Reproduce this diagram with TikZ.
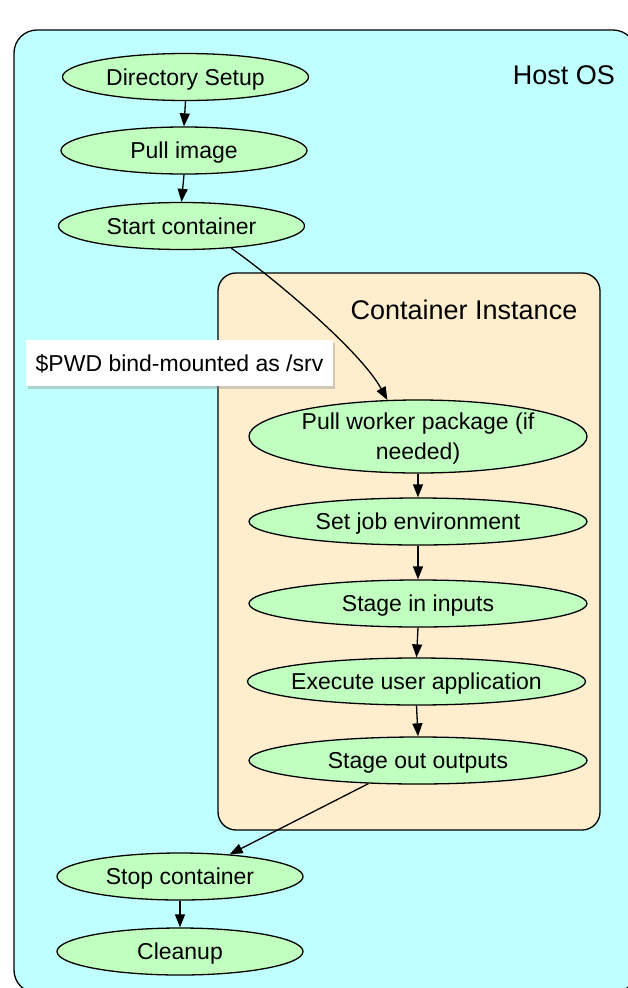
\documentclass[tikz,border=0pt]{standalone}
\usepackage{fontspec}
\setmainfont{Liberation Sans}
\usetikzlibrary{arrows.meta,shapes.geometric,shadows}
\definecolor{hostcol}{RGB}{191,255,255}
\definecolor{contcol}{RGB}{255,238,205}
\definecolor{statecol}{RGB}{192,255,192}

\begin{document}
\begin{tikzpicture}[x=1bp,y=-1bp,>={Triangle[length=13bp,width=10bp]},
  every node/.style={font=\fontsize{23bp}{30bp}\selectfont},
  state/.style={ellipse,draw,fill=statecol,inner xsep=-40bp,inner ysep=0pt,
    minimum height=47bp,text height=16.5bp,text depth=0pt},
  hoststate/.style={state,minimum width=246bp},
  contstate/.style={state,minimum width=338bp},
  boxlabel/.style={font=\fontsize{27bp}{30bp}\selectfont}]
  \pgfsetlinewidth{1.3bp}
  \useasboundingbox (0,0) rectangle (628,988);
  \clip (0,0) rectangle (628,988);
%%
  % Cluster: host
  \draw[fill=hostcol,rounded corners=23bp] (14,30) rectangle (636,993);
  \node[boxlabel] (hostlabel) at (564,75) {Host OS};
  % Cluster: container
  \draw[fill=contcol,rounded corners=18bp] (218,273) rectangle (600,830);
  \node[boxlabel] (contlabel) at (464,310) {Container Instance};
  % Node: dirsetup
  \node[hoststate] (dirsetup) at (185.5,77) {Directory Setup};
  % Node: pullimg
  \node[hoststate] (pullimg) at (184,150.5) {Pull image};
  % Node: start
  \node[hoststate] (start) at (181.5,226) {Start container};
  % Node: pullpkg
  \node[contstate,minimum height=73bp,align=center,text height=46.5bp] (pullpkg)
    at (418,436.5) {Pull worker package (if\\needed)};
  % Node: setenv
  \node[contstate] (setenv) at (418,521.5) {Set job environment};
  % Node: stagein
  \node[contstate] (stagein) at (418,603.5) {Stage in inputs};
  % Node: exec
  \node[contstate] (exec) at (416.5,681.5) {Execute user application};
  % Node: stageout
  \node[contstate] (stageout) at (418,760.5) {Stage out outputs};
  % Node: stop
  \node[hoststate] (stop) at (180,876.5) {Stop container};
  % Node: cleanup
  \node[hoststate] (cleanup) at (180,951.5) {Cleanup};
  % Edge: dirsetup -> pullimg
  \draw[->] (dirsetup.south) -- (pullimg.north);
  % Edge: pullimg -> start
  \draw[->] (pullimg.south) -- (start.north);
  % Edge: start -> pullpkg
  \draw[->] (start.-24) .. controls (271,276) and (360,350) .. (pullpkg.130);
  % Edge: pullpkg -> setenv
  \draw[->] (pullpkg.south) -- (setenv.north);
  % Edge: setenv -> stagein
  \draw[->] (setenv.south) -- (stagein.north);
  % Edge: stagein -> exec
  \draw[->] (stagein.south) -- (exec.north);
  % Edge: exec -> stageout
  \draw[->] (exec.south) -- (stageout.north);
  % Edge: stageout -> stop
  \draw[->] (stageout.205) -- (stop.24);
  % Edge: stop -> cleanup
  \draw[->] (stop.south) -- (cleanup.north);
  % Label: bind mount
  \node[fill=white,drop shadow={shadow xshift=2bp,shadow yshift=-3bp,opacity=0.35},
    minimum width=307bp,minimum height=46bp,inner sep=0pt,text height=16.5bp,
    text depth=0pt] (mountlabel) at (179.5,363) {\$PWD bind-mounted as /srv};
%
\end{tikzpicture}
\end{document}
